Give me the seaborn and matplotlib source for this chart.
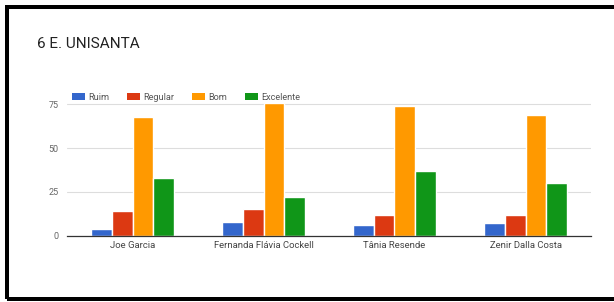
import matplotlib
matplotlib.use("Agg")
import matplotlib.pyplot as plt
import seaborn as sns
import pandas as pd
from matplotlib.patches import Rectangle, Patch

categories = ["Joe Garcia", "Fernanda Flávia Cockell", "Tânia Resende", "Zenir Dalla Costa"]
series_names = ["Ruim", "Regular", "Bom", "Excelente"]
ruim = [4, 8, 6, 7]
regular = [14, 15, 12, 12]
bom = [68, 76, 74, 69]
excelente = [33, 22, 37, 30]
yticks = [0, 25, 50, 75]
colors = ["#3366cc", "#dc3912", "#ff9900", "#109618"]

rows = []
for name, vals in zip(series_names, [ruim, regular, bom, excelente]):
    for c, v in zip(categories, vals):
        rows.append({"prof": c, "nota": name, "val": v})
df = pd.DataFrame(rows)

sns.set_style("white")
plt.rcParams["font.family"] = ["Roboto", "DejaVu Sans"]

W, H = 614, 302
fig = plt.figure(figsize=(W / 100, H / 100), dpi=100)
ax_left, ax_right = 67 / W, 591 / W
ax_bottom, ax_top = 1 - 235.7 / H, 1 - 95.5 / H
ax = fig.add_axes([ax_left, ax_bottom, ax_right - ax_left, ax_top - ax_bottom])

sns.barplot(data=df, x="prof", y="val", hue="nota", hue_order=series_names,
            order=categories, palette=colors, saturation=1, width=0.63,
            ax=ax, legend=False, errorbar=None)

ax.set_ylim(0, 80)
ax.set_xlim(-0.5, len(categories) - 0.5)
ax.set_yticks(yticks)
ax.set_yticklabels([str(t) for t in yticks], fontsize=6.5, color="#666666")
ax.tick_params(axis="y", length=0, pad=6)
ax.tick_params(axis="x", length=0, pad=4, labelsize=6.8, labelcolor="#444444")
ax.set_xlabel("")
ax.set_ylabel("")
for s in ["top", "right", "left"]:
    ax.spines[s].set_visible(False)
ax.spines["bottom"].set_color("#333333")
ax.spines["bottom"].set_linewidth(0.9)
ax.yaxis.grid(True, color="#dddddd", linewidth=0.8)
ax.set_axisbelow(True)

fig.text(37 / W, 1 - 44.5 / H, "6 E. UNISANTA", fontsize=11, color="#222222",
         ha="left", va="center")

handles = [Patch(facecolor=c, edgecolor="none") for c in colors]
fig.legend(handles, series_names, loc="center left",
           bbox_to_anchor=(72 / W, 1 - 97.5 / H), ncol=4, frameon=False,
           fontsize=6.6, handlelength=1.45, handleheight=0.85,
           handletextpad=0.35, columnspacing=1.9, borderaxespad=0,
           borderpad=0, labelcolor="#555555")

# outer black frame (screenshot border)
lw_px = 4
fig.add_artist(Rectangle((7 / W, 3 / H), (W + 20) / W, (H - 10) / H,
                         transform=fig.transFigure, fill=False,
                         edgecolor="black", linewidth=lw_px * 0.72,
                         clip_on=False))

fig.savefig("out.png", dpi=100)
